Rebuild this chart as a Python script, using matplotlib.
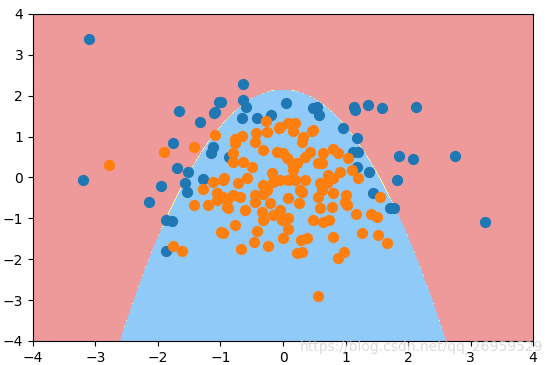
import numpy as np
import matplotlib
matplotlib.use("Agg")
import matplotlib.pyplot as plt
from matplotlib.colors import ListedColormap

# points (classe 0 = bleu, classe 1 = orange)
x0_blue = [-3.10, -3.20, -2.14, -1.87, -1.87, -1.66, -1.33, -1.10, -1.02, -0.64,
           -0.99, -1.09, -0.64, -0.59, -0.66, -0.42, -0.19, 0.05, 0.48, 0.54,
           0.58, 1.14, 1.15, 1.36, 1.58, 2.13, 0.96, 1.18, 1.12, 1.20,
           1.18, 1.38, 1.44, 1.86, 2.08, 2.75, 1.82, 1.71, 1.78, 3.23,
           -1.76, -1.12, -1.15, -1.70, -1.52, -1.95, -1.57, -1.54, -1.28, -0.86,
           -1.78]
x1_blue = [3.39, -0.06, -0.60, -1.04, -1.80, 1.62, 1.36, 1.57, 1.85, 2.29,
           1.85, 1.60, 1.90, 1.73, 1.45, 1.45, 1.53, 1.82, 1.70, 1.72,
           1.53, 1.72, 1.65, 1.77, 1.70, 1.72, 1.21, 0.97, 0.62, 0.62,
           0.26, 0.13, -0.38, 0.52, 0.45, 0.52, -0.06, -0.75, -0.75, -1.09,
           0.84, 0.75, 0.60, 0.23, 0.13, -0.20, -0.13, -0.35, -0.04, 0.50,
           -1.06]

x0_orange = [-2.78, -1.90, -1.43, -1.09, -1.12, -1.28, -0.96, -1.06, -0.27, -0.66,
             -0.43, -0.26, -0.06, 0.08, 0.19, 0.16, 0.32, 0.48, -0.77, 0.80,
             0.88, 0.64, 1.04, 1.10, 1.20, 0.91, 0.80, 0.70, 0.62, 1.00,
             1.55, 0.62, 1.17, 1.41, 1.50, 0.80, 1.26, 1.52, 1.66, 0.98,
             0.88, 0.74, 0.78, 0.99, 1.02, 0.59, 0.80, -1.76, -1.62, -1.42,
             -1.20, -1.06, -0.90, -0.99, -0.90, -0.96, -0.80, -0.88, -0.61, -0.45,
             -0.32, -0.26, -0.21, -0.34, -0.32, -0.16, -0.05, -0.02, 0.08, 0.08,
             0.26, 0.30, 0.56, 0.48, 0.64, -0.77, -0.96, -0.42, 0.08, -0.46,
             0.00, 0.29, 0.38, -0.67, -0.24, 0.22, 0.30, 0.56, -0.77, -0.80,
             -0.80, -0.64, -0.50, -0.72, -0.58, -0.45, -0.32, -0.10, 0.00, 0.06,
             0.14, 0.22, 0.16, 0.35, 0.43, 0.56, 0.30, 0.46, -0.05, -0.18,
             -0.16, -0.05, 0.08, 0.19, 0.35, 0.27, -0.32, -0.45, -0.69, -0.94,
             0.59, 0.72]
x1_orange = [0.31, 0.62, 0.75, 1.04, -0.11, -0.28, -0.06, -0.38, 1.38, 1.01,
             1.09, 1.11, 1.21, 1.33, 1.33, 1.13, 0.99, 1.16, 0.94, 0.70,
             0.60, 0.60, 0.48, 0.18, -0.01, 0.13, -0.01, -0.13, -0.30, -0.43,
             -0.48, 0.35, -0.89, -0.89, -0.97, -1.45, -1.36, -1.41, -1.60, -1.82,
             -1.97, -1.04, -0.72, -0.60, -0.67, -0.75, -0.38, -1.67, -1.80, -0.67,
             -0.67, -0.55, -0.55, -1.33, -0.72, -0.48, -0.43, -0.75, -0.79, -0.60,
             -0.40, -0.30, -0.63, -0.84, -1.04, -0.92, -0.80, -1.04, -0.99, -0.50,
             -0.62, -0.35, -0.48, -1.04, -1.09, -1.16, -1.36, -1.31, -1.26, -1.58,
             -1.48, -1.53, -1.48, -1.75, -1.67, -1.85, -1.82, -2.90, 0.84, 0.60,
             0.38, 0.38, 0.26, -0.13, -0.01, 0.87, 0.67, 0.62, 0.60, 0.48,
             0.35, 0.35, 0.18, 0.50, 0.62, 0.35, 0.87, 1.13, 1.23, 0.11,
             -0.11, -0.06, -0.06, -0.06, -0.06, -0.30, -0.18, -0.43, -0.48, -0.01,
             -0.13, 0.06]

# frontière : x1 = b_top - b_curv * x0^2
b_top = 2.14
b_curv = 0.91

fig = plt.figure(figsize=(5.49, 3.65), dpi=100)
ax = fig.add_axes([0.060, 0.066, 0.911, 0.896])

g0, g1 = np.meshgrid(np.linspace(-4, 4, 500), np.linspace(-4, 4, 500))
zz = (g1 < b_top - b_curv * g0 ** 2).astype(int)
custom_cmap = ListedColormap(['#EF9A9A', '#FFF59D', '#90CAF9'])
ax.contourf(g0, g1, zz, cmap=custom_cmap)

ax.scatter(x0_blue, x1_blue, s=50, zorder=3)
ax.scatter(x0_orange, x1_orange, s=50, zorder=3)
ax.set_xlim(-4, 4)
ax.set_ylim(-4, 4)
ax.tick_params(labelsize=10)

# filigrane du blog, par-dessus les graduations comme sur l'original
fig.text(0.99, 0.05, "https://blog.csdn.net/qq_26959529", ha='right', va='center',
         fontsize=10, color='#cfcfcf', alpha=0.75)

fig.savefig("out.png")
